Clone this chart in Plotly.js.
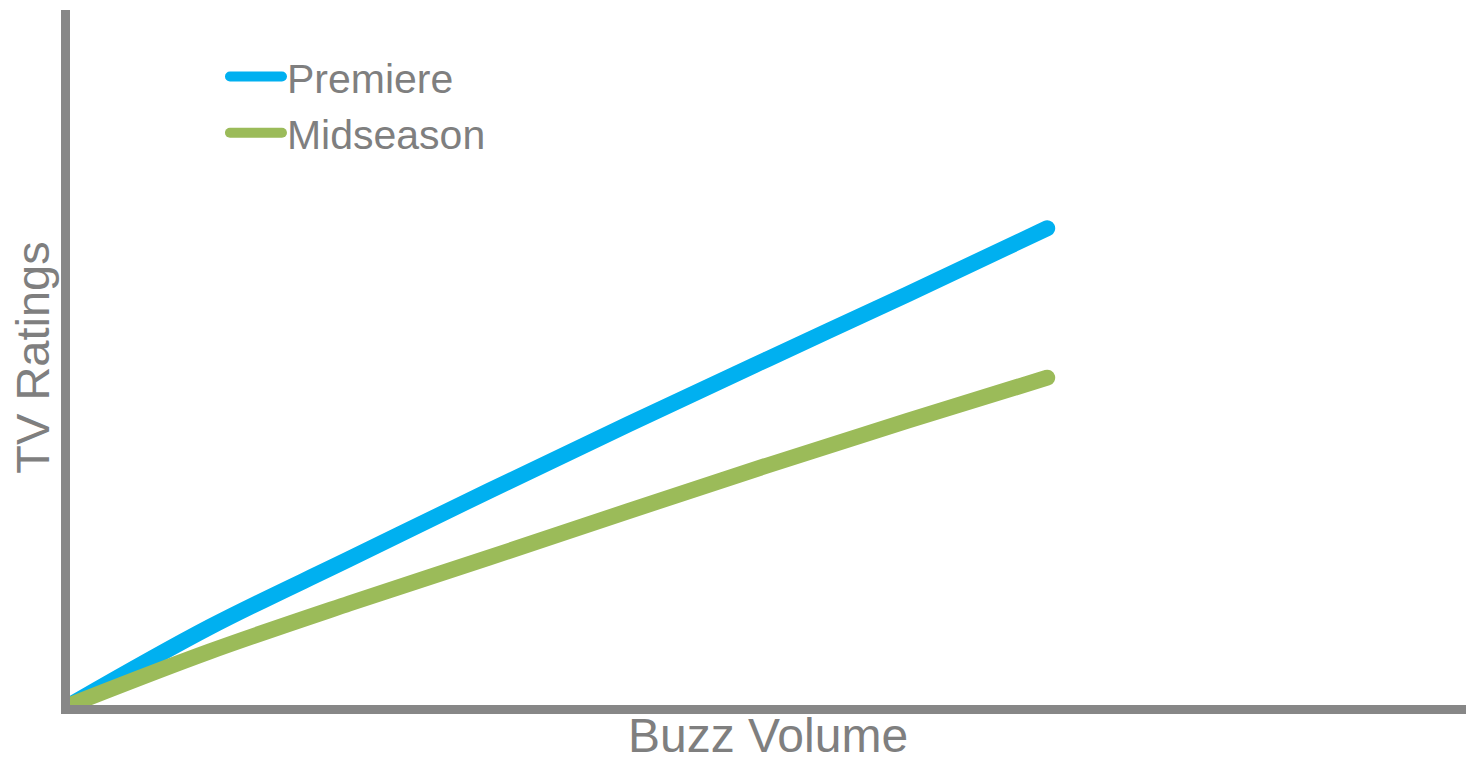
<!DOCTYPE html>
<html>
<head>
<meta charset="utf-8">
<script src="https://cdn.plot.ly/plotly-3.0.1.min.js"></script>
<style>
  html, body { margin: 0; padding: 0; background: #ffffff; }
  #chart { width: 1470px; height: 762px; }
  /* rounded ends on the series strokes and legend samples */
  .scatterlayer path.js-line, .legendlines path { stroke-linecap: round; }
</style>
</head>
<body>
<div id="chart"></div>
<script>
// Buzz volume (relative units) and the TV ratings each season type reaches
const buzzVolume = [0, 10, 20, 30, 40, 50, 60, 70];
const premiereRatings = [0, 11.2, 21.0, 30.8, 40.4, 49.8, 59.1, 68.6];
const midseasonRatings = [0, 7.7, 14.6, 21.2, 27.9, 34.5, 40.9, 47.1];
const seriesNames = ['Premiere', 'Midseason'];

const axisGray = '#878787';
const textGray = '#7f7f7f';

const traces = [
  {
    x: buzzVolume, y: premiereRatings, name: seriesNames[0],
    type: 'scatter', mode: 'lines',
    line: { color: '#00B0F0', width: 16, shape: 'spline', smoothing: 1 },
    hoverinfo: 'x+y+name'
  },
  {
    x: buzzVolume, y: midseasonRatings, name: seriesNames[1],
    type: 'scatter', mode: 'lines',
    line: { color: '#9BBB59', width: 16, shape: 'spline', smoothing: 1 },
    hoverinfo: 'x+y+name'
  }
];

const layout = {
  width: 1470, height: 762,
  margin: { l: 70, r: 4, t: 10, b: 57 },
  paper_bgcolor: '#ffffff', plot_bgcolor: '#ffffff',
  font: { family: 'Liberation Sans, Arial, sans-serif', color: textGray },
  showlegend: true,
  legend: {
    x: 0.111, y: 0.952, xanchor: 'left', yanchor: 'top',
    bgcolor: 'rgba(0,0,0,0)', borderwidth: 0,
    font: { size: 41, color: textGray },
    itemwidth: 52, tracegroupgap: 0
  },
  xaxis: {
    range: [0, 100], fixedrange: true,
    showline: true, linecolor: axisGray, linewidth: 9,
    showgrid: false, zeroline: false, ticks: '', showticklabels: false,
    title: { text: 'Buzz Volume', font: { size: 48, color: textGray }, standoff: 16 }
  },
  yaxis: {
    range: [0, 100], fixedrange: true,
    showline: true, linecolor: axisGray, linewidth: 9,
    showgrid: false, zeroline: false, ticks: '', showticklabels: false,
    title: { text: 'TV Ratings', font: { size: 47, color: textGray }, standoff: 0 }
  }
};

Plotly.newPlot('chart', traces, layout, { displayModeBar: false });
</script>
</body>
</html>
